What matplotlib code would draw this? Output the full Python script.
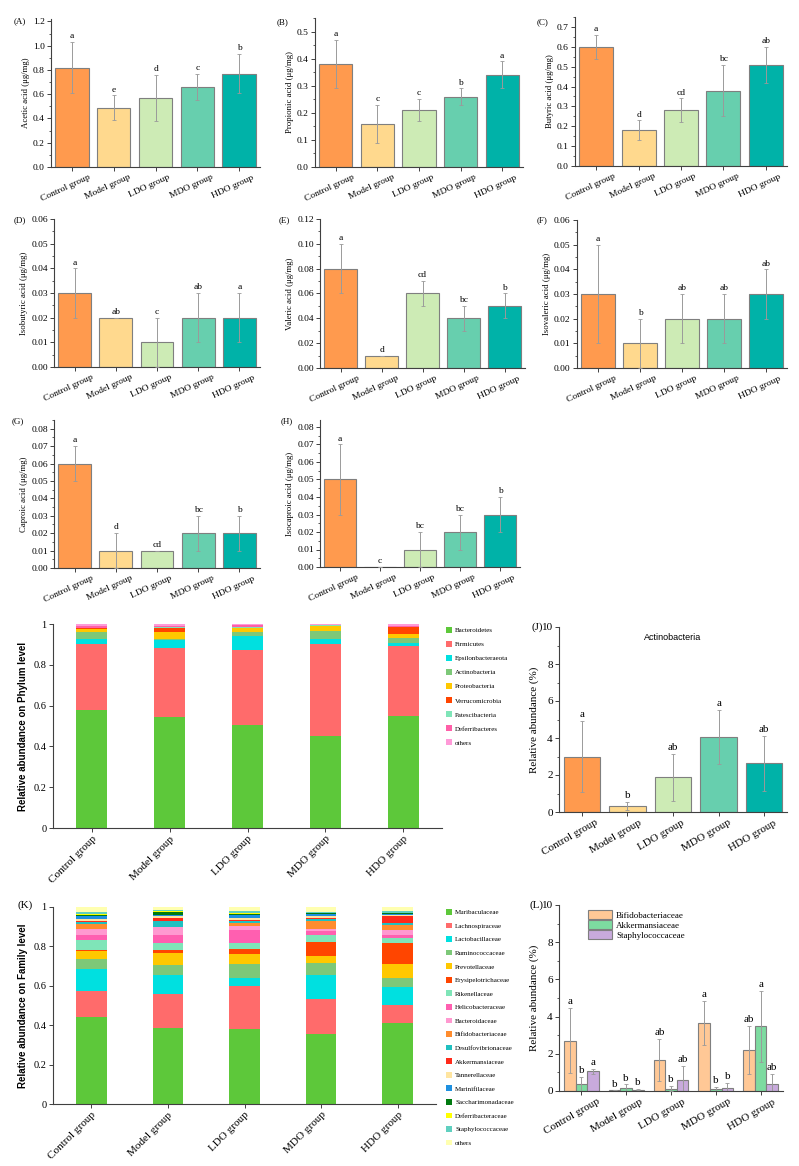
import numpy as np
import matplotlib
matplotlib.use("Agg")
import matplotlib.pyplot as plt
from matplotlib.ticker import MultipleLocator, FuncFormatter
from matplotlib.patches import Patch
from matplotlib.transforms import ScaledTranslation

plt.rcParams['font.family'] = ['Liberation Serif', 'DejaVu Serif']

groups = ["Control group", "Model group", "LDO group", "MDO group", "HDO group"]
grp_colors = ["#FF9A4E", "#FFD98E", "#CDEBB5", "#67CFAE", "#00B2A8"]

# SCFA panels (A-H): means, errors, letters
acetic = [0.82, 0.49, 0.57, 0.66, 0.77]
acetic_err = [0.21, 0.10, 0.19, 0.11, 0.16]
acetic_sig = ["a", "e", "d", "c", "b"]
propionic = [0.38, 0.16, 0.21, 0.26, 0.34]
propionic_err = [0.09, 0.07, 0.04, 0.03, 0.05]
propionic_sig = ["a", "c", "c", "b", "a"]
butyric = [0.60, 0.18, 0.28, 0.38, 0.51]
butyric_err = [0.06, 0.05, 0.06, 0.13, 0.09]
butyric_sig = ["a", "d", "cd", "bc", "ab"]
isobutyric = [0.03, 0.02, 0.01, 0.02, 0.02]
isobutyric_err = [0.01, 0.0, 0.01, 0.01, 0.01]
isobutyric_sig = ["a", "ab", "c", "ab", "a"]
valeric = [0.08, 0.01, 0.06, 0.04, 0.05]
valeric_err = [0.02, 0.0, 0.01, 0.01, 0.01]
valeric_sig = ["a", "d", "cd", "bc", "b"]
isovaleric = [0.03, 0.01, 0.02, 0.02, 0.03]
isovaleric_err = [0.02, 0.01, 0.01, 0.01, 0.01]
isovaleric_sig = ["a", "b", "ab", "ab", "ab"]
caproic = [0.06, 0.01, 0.01, 0.02, 0.02]
caproic_err = [0.01, 0.01, 0.0, 0.01, 0.01]
caproic_sig = ["a", "d", "cd", "bc", "b"]
isocaproic = [0.05, 0.0, 0.01, 0.02, 0.03]
isocaproic_err = [0.02, 0.0, 0.01, 0.01, 0.01]
isocaproic_sig = ["a", "c", "bc", "bc", "b"]

# phylum level composition (I)
phyla = ["Bacteroidetes", "Firmicutes", "Epsilonbacteraeota", "Actinobacteria", "Proteobacteria",
         "Verrucomicrobia", "Patescibacteria", "Deferribacteres", "others"]
phyla_colors = ["#5DC83A", "#FF6B6B", "#00E0E0", "#7DC878", "#FFC800", "#FF4500", "#7FE5B8", "#FF5FA8", "#FF9AD8"]
phylum_ctrl = [0.577, 0.327, 0.024, 0.031, 0.016, 0.004, 0.003, 0.010, 0.008]
phylum_model = [0.542, 0.339, 0.042, 0.005, 0.034, 0.017, 0.006, 0.007, 0.008]
phylum_ldo = [0.503, 0.371, 0.067, 0.018, 0.021, 0.002, 0.003, 0.008, 0.007]
phylum_mdo = [0.449, 0.453, 0.024, 0.040, 0.022, 0.002, 0.004, 0.002, 0.004]
phylum_hdo = [0.547, 0.344, 0.016, 0.024, 0.020, 0.034, 0.002, 0.003, 0.010]

# Actinobacteria (J)
actino = [3.0, 0.33, 1.87, 4.05, 2.63]
actino_err = [1.9, 0.2, 1.26, 1.45, 1.47]
actino_sig = ["a", "b", "ab", "a", "ab"]

# family level composition (K)
families = ["Muribaculaceae", "Lachnospiraceae", "Lactobacillaceae", "Ruminococcaceae", "Prevotellaceae",
            "Erysipelotrichaceae", "Rikenellaceae", "Helicobacteraceae", "Bacteroidaceae", "Bifidobacteriaceae",
            "Desulfovibrionaceae", "Akkermansiaceae", "Tannerellaceae", "Marinifilaceae", "Saccharimonadaceae",
            "Deferribacteraceae", "Staphylococcaceae", "others"]
family_colors = ["#5DC83A", "#FF6B6B", "#00E0E0", "#7DC878", "#FFC800", "#FF4500", "#7FE5B8", "#FF5FB0",
                 "#FF99D0", "#FF8C2E", "#20C0C0", "#FF2A1A", "#FFE5A0", "#1E90E0", "#007A10", "#FFFF00",
                 "#60D0C0", "#FFFFB0"]
family_ctrl = [0.440, 0.134, 0.110, 0.052, 0.039, 0.005, 0.051, 0.025, 0.031, 0.027, 0.010, 0.003, 0.010,
               0.017, 0.004, 0.005, 0.012, 0.025]
family_model = [0.386, 0.171, 0.098, 0.049, 0.064, 0.014, 0.037, 0.037, 0.041, 0.003, 0.029, 0.015, 0.009,
                0.005, 0.017, 0.005, 0.003, 0.017]
family_ldo = [0.379, 0.218, 0.041, 0.073, 0.050, 0.024, 0.031, 0.067, 0.021, 0.013, 0.014, 0.003, 0.010,
              0.017, 0.005, 0.005, 0.007, 0.022]
family_mdo = [0.354, 0.177, 0.126, 0.057, 0.036, 0.072, 0.034, 0.020, 0.014, 0.037, 0.014, 0.001, 0.012,
              0.010, 0.006, 0.001, 0.004, 0.025]
family_hdo = [0.411, 0.090, 0.091, 0.046, 0.074, 0.105, 0.024, 0.015, 0.027, 0.024, 0.013, 0.033, 0.005,
              0.006, 0.004, 0.003, 0.007, 0.022]

# selected families (L)
fam_sel = ["Bifidobacteriaceae", "Akkermansiaceae", "Staphylococcaceae"]
fam_sel_colors = ["#FFC896", "#7DDBA0", "#C8AADC"]
bifido = [2.7, 0.03, 1.65, 3.65, 2.2]
bifido_err = [1.75, 0.0, 1.13, 1.17, 1.3]
bifido_sig = ["a", "b", "ab", "a", "ab"]
akk = [0.35, 0.15, 0.12, 0.10, 3.47]
akk_err = [0.4, 0.2, 0.13, 0.13, 1.93]
akk_sig = ["b", "b", "b", "b", "a"]
staph = [1.05, 0.07, 0.57, 0.15, 0.4]
staph_err = [0.15, 0.02, 0.76, 0.27, 0.5]
staph_sig = ["a", "b", "ab", "b", "ab"]

W, H = 799, 1166
fig = plt.figure(figsize=(W / 100, H / 100), dpi=100)


def add_ax(l, t, r, b):
    return fig.add_axes([l / W, 1 - b / H, (r - l) / W, (b - t) / H])


def tag(x, y, s, size=6.5, ha='left'):
    fig.text(x / W, 1 - y / H, s, fontsize=size, va='center', ha=ha)


def shift_xlabels(ax, px):
    off = ScaledTranslation(px / 100, 0, fig.dpi_scale_trans)
    for lab in ax.get_xticklabels():
        lab.set_transform(lab.get_transform() + off)


def style(ax, size):
    for s in ['top', 'right']:
        ax.spines[s].set_visible(False)
    for s in ['left', 'bottom']:
        ax.spines[s].set_color('#404040')
        ax.spines[s].set_linewidth(0.8)
    ax.tick_params(axis='both', which='major', direction='out', length=3, width=0.7,
                   color='#404040', labelsize=size, pad=1.5)
    ax.tick_params(axis='y', which='minor', direction='out', length=1.6, width=0.6, color='#404040')


def bar_panel(box, vals, errs, sig, ylabel, ylim, step, fmt, rot=25, size=6.8, lsize=6.3, shift=-6):
    ax = add_ax(*box)
    x = np.arange(len(groups))
    ax.bar(x, vals, 0.8, color=grp_colors, edgecolor='#7f7f7f', linewidth=0.8, zorder=2)
    ax.errorbar(x, vals, yerr=errs, fmt='none', ecolor='#9a9a9a', elinewidth=0.7,
                capsize=1.3, capthick=0.6, zorder=3)
    for xi, v, e, s in zip(x, vals, errs, sig):
        ax.text(xi, v + e + ylim * 0.012, s, ha='center', va='bottom', fontsize=size)
    ax.set_xlim(-0.5, 4.5)
    ax.set_ylim(0, ylim)
    ax.yaxis.set_major_locator(MultipleLocator(step))
    ax.yaxis.set_minor_locator(MultipleLocator(step / 2))
    ax.yaxis.set_major_formatter(FuncFormatter(lambda v, p: fmt.format(v)))
    ax.set_xticks(x)
    ax.set_xticklabels(groups, rotation=rot, ha='center')
    ax.set_ylabel(ylabel, fontsize=lsize, labelpad=2)
    style(ax, size)
    shift_xlabels(ax, shift)
    return ax


bar_panel((51, 19, 260, 167), acetic, acetic_err, acetic_sig, "Acetic acid (μg/mg)", 1.22, 0.2, "{:.1f}")
bar_panel((315, 18, 523, 167), propionic, propionic_err, propionic_sig, "Propionic acid (μg/mg)", 0.55, 0.1, "{:.1f}")
bar_panel((575, 17, 787, 166), butyric, butyric_err, butyric_sig, "Butyric acid (μg/mg)", 0.75, 0.1, "{:.1f}")
bar_panel((54, 219, 260, 367), isobutyric, isobutyric_err, isobutyric_sig, "Isobutyric acid (μg/mg)", 0.06, 0.01, "{:.2f}")
bar_panel((320, 219, 525, 368), valeric, valeric_err, valeric_sig, "Valeric acid (μg/mg)", 0.12, 0.02, "{:.2f}")
bar_panel((577, 220, 787, 368), isovaleric, isovaleric_err, isovaleric_sig, "Isovaleric acid (μg/mg)", 0.06, 0.01, "{:.2f}")
bar_panel((54, 420, 260, 568), caproic, caproic_err, caproic_sig, "Caproic acid (μg/mg)", 0.085, 0.01, "{:.2f}")
bar_panel((320, 420, 520, 567), isocaproic, isocaproic_err, isocaproic_sig, "Isocaproic acid (μg/mg)", 0.084, 0.01, "{:.2f}")

tag(14, 21, "(A)")
tag(277, 22, "(B)")
tag(537, 22, "(C)")
tag(14, 220, "(D)")
tag(279, 220, "(E)")
tag(537, 220, "(F)")
tag(12, 421, "(G)")
tag(281, 421, "(H)")


def stack_panel(box, data, names, colors, ylabel, leg_top, lspace):
    ax = add_ax(*box)
    data = np.array(data)
    x = np.arange(len(groups))
    bottom = np.zeros(len(groups))
    for k in range(data.shape[1]):
        ax.bar(x, data[:, k], 0.4, bottom=bottom, color=colors[k], linewidth=0, zorder=2)
        bottom += data[:, k]
    ax.set_xlim(-0.5, 4.5)
    ax.set_ylim(0, 1)
    ax.yaxis.set_major_locator(MultipleLocator(0.2))
    ax.yaxis.set_major_formatter(FuncFormatter(lambda v, p: "{:g}".format(round(v, 1))))
    ax.set_xticks(x)
    ax.set_xticklabels(groups, rotation=45, ha='right', rotation_mode='anchor', fontsize=8)
    style(ax, 7.5)
    ax.tick_params(axis='x', labelsize=8)
    ax.set_ylabel(ylabel, fontsize=7, fontweight='bold', family=['Liberation Sans', 'DejaVu Sans'], labelpad=4)
    handles = [Patch(facecolor=c, edgecolor='none') for c in colors]
    fig.legend(handles, names, loc='upper left', bbox_to_anchor=(446 / W, 1 - leg_top / H),
               frameon=False, fontsize=5, handlelength=0.9, handleheight=0.9, handletextpad=0.4,
               labelspacing=lspace, borderpad=0, borderaxespad=0)
    return ax


stack_panel((53, 624, 442, 828),
            [phylum_ctrl, phylum_model, phylum_ldo, phylum_mdo, phylum_hdo],
            phyla, phyla_colors, "Relative abundance on Phylum level", 627, 1.12)
stack_panel((53, 907, 436, 1104),
            [family_ctrl, family_model, family_ldo, family_mdo, family_hdo],
            families, family_colors, "Relative abundance on Family level", 909, 1.05)
tag(17, 905, "(K)", 8)

# J
axj = bar_panel((559, 627, 787, 812), actino, actino_err, actino_sig, "Relative abundance (%)", 10, 2,
                "{:.0f}", rot=30, size=8, lsize=8, shift=-12)
axj.text(0.5, 0.97, "Actinobacteria", transform=axj.transAxes, ha='center', va='top', fontsize=6.5,
         family=['Liberation Sans', 'DejaVu Sans'])
tag(543, 627, "(J)", 8, ha='right')

# L
axl = add_ax(559, 905, 783, 1091)
x = np.arange(len(groups))
wd = 0.26
series = [(bifido, bifido_err, bifido_sig), (akk, akk_err, akk_sig), (staph, staph_err, staph_sig)]
for k, (vals, errs, sig) in enumerate(series):
    xs = x + (k - 1) * wd
    axl.bar(xs, vals, wd, color=fam_sel_colors[k], edgecolor='#7f7f7f', linewidth=0.8, zorder=2,
            label=fam_sel[k])
    axl.errorbar(xs, vals, yerr=errs, fmt='none', ecolor='#9a9a9a', elinewidth=0.7,
                 capsize=1.3, capthick=0.6, zorder=3)
    for xi, v, e, s in zip(xs, vals, errs, sig):
        axl.text(xi, v + e + 0.1, s, ha='center', va='bottom', fontsize=8)
axl.set_xlim(-0.5, 4.5)
axl.set_ylim(0, 10)
axl.yaxis.set_major_locator(MultipleLocator(2))
axl.yaxis.set_minor_locator(MultipleLocator(1))
axl.set_xticks(x)
axl.set_xticklabels(groups, rotation=30, ha='center')
axl.set_ylabel("Relative abundance (%)", fontsize=8, labelpad=2)
style(axl, 8)
shift_xlabels(axl, -9)
axl.legend(loc='upper left', bbox_to_anchor=(0.11, 0.995), frameon=False, fontsize=6.5,
           handlelength=2.6, handleheight=1.1, handletextpad=0.5, labelspacing=0.05, borderpad=0)
tag(543, 905, "(L)", 8, ha='right')

fig.savefig("out.png", dpi=100)
